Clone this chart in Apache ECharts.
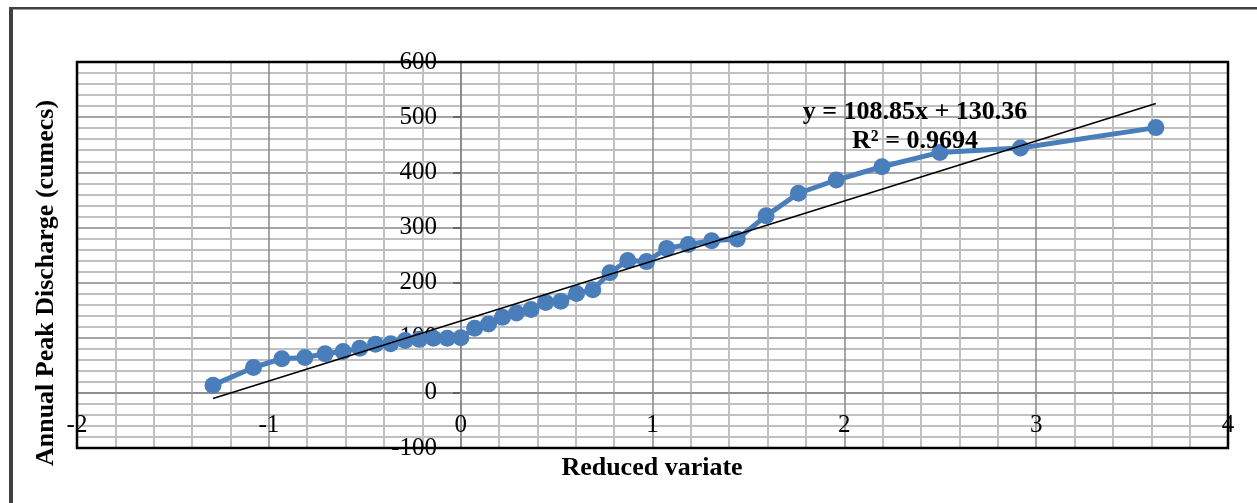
<!DOCTYPE html>
<html>
<head>
<meta charset="utf-8">
<script src="https://cdn.jsdelivr.net/npm/echarts@6.0.0/dist/echarts.min.js"></script>
<style>
html, body { margin: 0; padding: 0; background: #fff; }
#chart { width: 1257px; height: 503px; }
</style>
</head>
<body>
<div id="chart"></div>
<script>
// reduced variate (x) and annual peak discharge (y)
var reducedVariate = [-1.291, -1.080, -0.932, -0.812, -0.707, -0.613, -0.526, -0.444, -0.365, -0.289,
	-0.215, -0.142, -0.070, 0.001, 0.073, 0.145, 0.218, 0.291, 0.367, 0.443,
	0.522, 0.604, 0.689, 0.778, 0.871, 0.969, 1.074, 1.186, 1.308, 1.442,
	1.592, 1.761, 1.958, 2.196, 2.498, 2.918, 3.624];
var peakDischarge = [14, 46, 62, 64, 71, 75, 81, 88, 89, 95,
	97, 99, 99, 100, 117, 125, 137, 145, 151, 164,
	166, 180, 187, 218, 240, 238, 262, 269, 276, 279,
	321, 362, 386, 410, 436, 444, 481];

// linear trendline end points
var trendX = [-1.291, 3.624];
var trendY = [-10.2, 524.8];

var equationText = 'y = 108.85x + 130.36';
var r2Text = 'R² = 0.9694';
var xTitle = 'Reduced variate';
var yTitle = 'Annual Peak Discharge (cumecs)';

function zipPoints(xs, ys){
	return xs.map(function(x, i){
		return [x, ys[i]];
	});
}

function drawChart(){
	var chart = document.getElementById('chart');
	var myChart = echarts.init(chart);
	var serif = '"Liberation Serif", "Times New Roman", serif';

	var option = {
	    animation: false,
	    grid: {
	        left: 77,
	        top: 62,
	        right: 29,
	        bottom: 55,
	        show: false
	    },
	    xAxis: {
	        type: 'value',
	        min: -2,
	        max: 4,
	        interval: 1,
	        position: 'bottom',
	        // axis crosses at y = 0 (55 px above the plot bottom)
	        offset: -55,
	        axisLine: { onZero: false, lineStyle: { color: '#868686', width: 1.5 } },
	        axisTick: { show: true, length: 7, lineStyle: { color: '#9a9a9a', width: 2 } },
	        axisLabel: {
	            margin: 20,
	            color: '#000',
	            fontFamily: serif,
	            fontSize: 25,
	            showMinLabel: true,
	            showMaxLabel: true
	        },
	        splitLine: { show: true, lineStyle: { color: '#888', width: 1.5 } },
	        minorTick: { show: false, splitNumber: 5 },
	        minorSplitLine: { show: true, lineStyle: { color: '#c0c0c0', width: 2 } }
	    },
	    yAxis: {
	        type: 'value',
	        min: -100,
	        max: 600,
	        interval: 100,
	        position: 'left',
	        // axis crosses at x = 0
	        offset: -384,
	        axisLine: { show: true, onZero: false, lineStyle: { color: '#868686', width: 1.5 } },
	        axisTick: { show: true, length: 8, lineStyle: { color: '#555', width: 1.5 } },
	        axisLabel: {
	            margin: 24,
	            color: '#000',
	            fontFamily: serif,
	            fontSize: 25,
	            showMinLabel: true,
	            showMaxLabel: true
	        },
	        splitLine: { show: true, lineStyle: { color: '#888', width: 1.5 } },
	        minorTick: { show: false, splitNumber: 5 },
	        minorSplitLine: { show: true, lineStyle: { color: '#c0c0c0', width: 2 } }
	    },
	    series: [{
	        name: 'Observed',
	        type: 'line',
	        data: zipPoints(reducedVariate, peakDischarge),
	        symbol: 'circle',
	        symbolSize: 17,
	        lineStyle: { color: '#4a7ebb', width: 5 },
	        itemStyle: { color: '#4a7ebb' },
	        z: 3
	    }, {
	        name: 'Linear trend',
	        type: 'line',
	        data: zipPoints(trendX, trendY),
	        symbol: 'none',
	        lineStyle: { color: '#000', width: 1.5 },
	        z: 4
	    }],
	    graphic: [
	        // outer frame of the figure (left and top edges show)
	        { type: 'rect', shape: { x: 9, y: 7, width: 4, height: 500 }, style: { fill: '#404040' }, z: 0 },
	        { type: 'rect', shape: { x: 9, y: 7, width: 1260, height: 2.5 }, style: { fill: '#404040' }, z: 0 },
	        // black plot-area border, drawn over the gridlines
	        { type: 'rect', shape: { x: 77, y: 62, width: 1151, height: 386 },
	            style: { fill: null, stroke: '#000', lineWidth: 2.5 }, z: 5 },
	        {
	            type: 'text',
	            x: 915, y: 112,
	            style: { text: equationText, font: 'bold 26px ' + serif, fill: '#000',
	                align: 'center', textAlign: 'center', verticalAlign: 'middle', textVerticalAlign: 'middle' },
	            z: 10
	        },
	        {
	            type: 'text',
	            x: 915, y: 141,
	            style: { text: r2Text, font: 'bold 26px ' + serif, fill: '#000',
	                align: 'center', textAlign: 'center', verticalAlign: 'middle', textVerticalAlign: 'middle' },
	            z: 10
	        },
	        {
	            type: 'text',
	            x: 652, y: 468,
	            style: { text: xTitle, font: 'bold 26px ' + serif, fill: '#000',
	                align: 'center', textAlign: 'center', verticalAlign: 'middle', textVerticalAlign: 'middle' },
	            z: 10
	        },
	        {
	            type: 'text',
	            x: 46, y: 283,
	            rotation: Math.PI / 2,
	            style: { text: yTitle, font: 'bold 26px ' + serif, fill: '#000',
	                align: 'center', textAlign: 'center', verticalAlign: 'middle', textVerticalAlign: 'middle' },
	            z: 10
	        }
	    ]
	};

	myChart.setOption(option);
}

drawChart();
</script>
</body>
</html>
